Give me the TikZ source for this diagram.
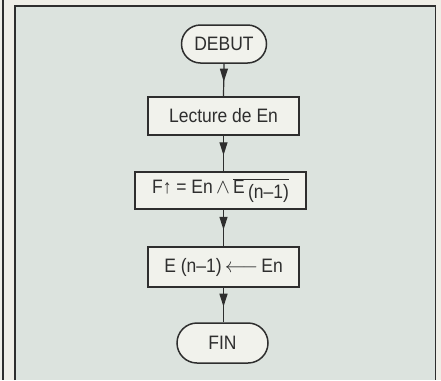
\documentclass[tikz,border=0pt]{standalone}
\usepackage{fontspec}
\setmainfont[FakeStretch=0.9]{Liberation Sans}
\usetikzlibrary{decorations.markings,arrows.meta}
\definecolor{paper}{HTML}{EFEEE7}
\definecolor{panel}{HTML}{DCE3DE}
\definecolor{boxfill}{HTML}{F1F2EC}
\definecolor{ink}{HTML}{2E2E2E}
\tikzset{
  procbox/.style={draw=ink, line width=1.5bp, fill=boxfill, minimum height=38bp, inner sep=0pt, text=ink, font=\fontsize{19.5}{22}\selectfont},
  termbox/.style={procbox, rounded corners=19bp},
  flow/.style={draw=ink, line width=1.2bp, postaction={decorate},
    decoration={markings, mark=at position 0.55 with {\arrow{Triangle[width=8bp,length=13bp]}}}},
}
\begin{document}
\begin{tikzpicture}[x=1bp,y=-1bp]
\useasboundingbox (0,0) rectangle (441,380);
\fill[paper] (0,0) rectangle (441,380);
\draw[ink, line width=1.2bp] (3,0) -- (3,380);
\fill[panel] (15,6) rectangle (436,380);
\draw[ink, line width=1.6bp] (15,380) -- (15,6) -- (435.5,6) -- (435.5,380);
\node[termbox, minimum width=85bp] (debut) at (224,44) {DEBUT};
\node[procbox, minimum width=151bp] (lect) at (223.5,116) {Lecture de En};
\node[procbox, minimum width=171bp, minimum height=37bp] (ft) at (220.5,190.5)
  {F↑ = En\,$\wedge$\,$\overline{\hbox{E\raisebox{-0.45ex}{\,(n–1)}}}$};
\node[procbox, minimum width=151bp, minimum height=40bp] (eb) at (223.5,267) {E (n–1)\,$\longleftarrow$\,En};
\node[termbox, minimum width=91bp, minimum height=40bp, rounded corners=20bp] (fin) at (222.5,343) {FIN};
\draw[flow] (debut.south) -- (lect.north);
\draw[flow] (lect.south) -- (lect.south |- ft.north);
\draw[flow] (lect.south |- ft.south) -- (eb.north);
\draw[flow] (eb.south) -- (eb.south |- fin.north);
\end{tikzpicture}
\end{document}
